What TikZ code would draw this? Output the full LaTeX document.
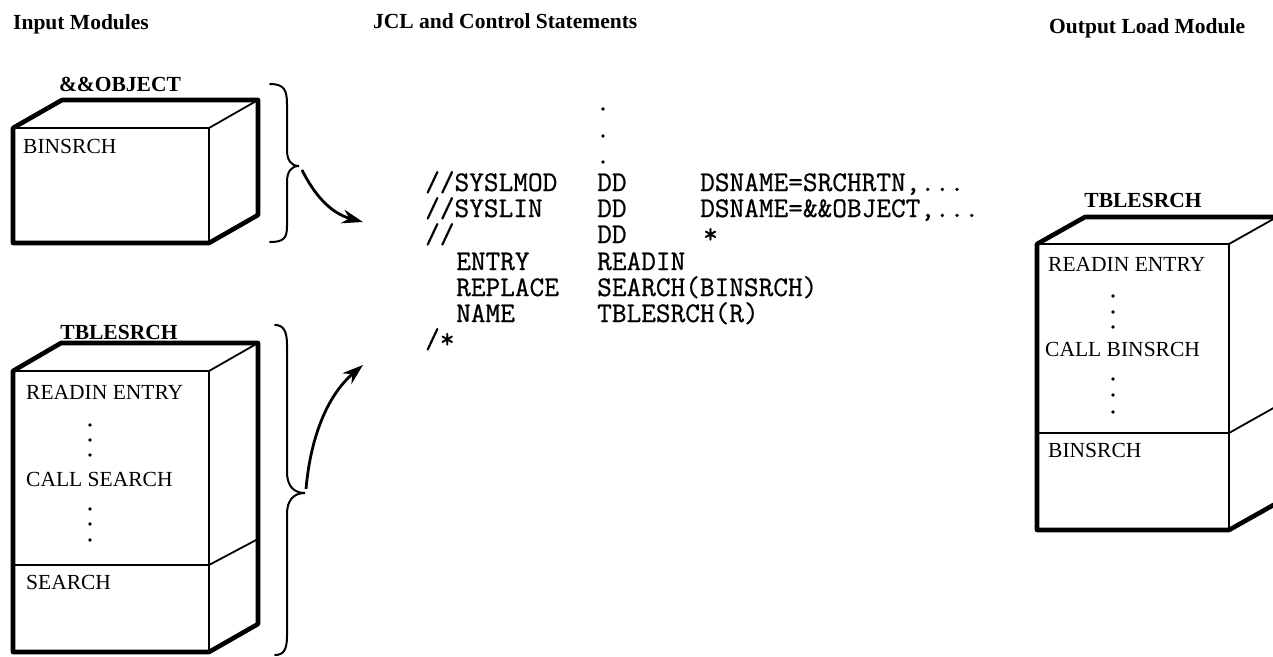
\documentclass[tikz,border=0pt]{standalone}
\usepackage{fontspec}
\setmainfont{Liberation Serif}
\newfontfamily\jclfont[FakeBold=0.7]{Latin Modern Mono}
\usetikzlibrary{arrows.meta}

\tikzset{
  outer/.style={line width=4.6pt, line join=round, line cap=round},
  inner/.style={line width=1.8pt, line cap=round},
  bracepath/.style={line width=2pt, line cap=round},
  flow/.style={line width=2.8pt, -{Stealth[length=21pt,width=14pt]}},
  head/.style={font=\fontsize{21.5}{24}\selectfont\bfseries, anchor=base west, inner sep=0pt},
  title/.style={font=\fontsize{21.5}{24}\selectfont\bfseries, anchor=base, inner sep=0pt},
  entry/.style={font=\fontsize{21.5}{24}\selectfont, anchor=base west, inner sep=0pt},
  code/.style={font=\jclfont\fontsize{28.5}{30}\selectfont, anchor=base west, inner sep=0pt},
  dot/.style={circle, fill, inner sep=0pt, minimum size=3.8pt},
}

\begin{document}
\begin{tikzpicture}[x=1pt, y=-1pt]
\useasboundingbox (0,0) rectangle (1273,656);
\clip (0,0) rectangle (1273,656);

% column headings
\node[head] (hin)  at (13,29)   {Input Modules};
\node[head] (hjcl) at (373,28)  {JCL and Control Statements};
\node[head] (hout) at (1049,33) {Output Load Module};

% ---- input module &&OBJECT ----
\node[title] (tobj) at (120,91) {\&\&OBJECT};
\draw[outer] (13,243) -- (13,128) -- (62,100) -- (258,100) -- (258,215) -- (209,243) -- cycle;
\draw[inner] (13,128) -- (209,128) -- (258,100);
\draw[inner] (209,128) -- (209,243);
\node[entry] (obin) at (23,153) {BINSRCH};

% ---- input module TBLESRCH ----
\node[title] (tin) at (119,339) {TBLESRCH};
\draw[outer] (13,652) -- (13,371) -- (61,343) -- (258,343) -- (258,624) -- (209,652) -- cycle;
\draw[inner] (13,371) -- (209,371) -- (258,343);
\draw[inner] (209,371) -- (209,652);
\draw[inner] (13,565) -- (209,565) -- (258,539);
\node[entry] (iread) at (26,399) {READIN ENTRY};
\foreach \y in {425,440,455,509,524,540} \node[dot] at (90,\y) {};
\node[entry] (icall) at (26,486) {CALL SEARCH};
\node[entry] (isrch) at (26,589) {SEARCH};

% braces gathering the input modules
\draw[bracepath] (270,84) .. controls (284,84) and (287,90) .. (287,104) -- (287,150)
  .. controls (287,160) and (291,166) .. (299,166)
  .. controls (291,166) and (287,172) .. (287,182) -- (287,226)
  .. controls (287,238) and (284,242) .. (270,242);
\coordinate (b1) at (302,170);
\draw[bracepath] (275,325) .. controls (284,325) and (287,332) .. (287,345) -- (287,472)
  .. controls (287,485) and (293,493) .. (305,493)
  .. controls (293,493) and (287,501) .. (287,514) -- (287,636)
  .. controls (287,649) and (284,655) .. (275,655);
\coordinate (b2) at (306,489);

% ---- JCL and control statements ----
\foreach \y in {109,136,162} \node[dot] at (603,\y) {};
\node[code] (l1a) at (425,191) {//SYSLMOD};
\node[code] (l1b) at (597,191) {DD};
\node[code] (l1c) at (700,191) {DSNAME=SRCHRTN,...};
\node[code] (l2a) at (425,217) {//SYSLIN};
\node[code] (l2b) at (597,217) {DD};
\node[code] (l2c) at (700,217) {DSNAME=\&\&OBJECT,...};
\node[code] (l3a) at (425,243) {//};
\node[code] (l3b) at (597,243) {DD};
\node[code] (l3c) at (703,243) {*};
\node[code] (l4a) at (456,270) {ENTRY};
\node[code] (l4b) at (597,270) {READIN};
\node[code] (l5a) at (456,296) {REPLACE};
\node[code] (l5b) at (597,296) {SEARCH(BINSRCH)};
\node[code] (l6a) at (456,322) {NAME};
\node[code] (l6b) at (597,322) {TBLESRCH(R)};
\node[code] (l7a) at (425,348) {/*};

\coordinate (in1) at (363,222);
\coordinate (in2) at (363,365);
\draw[flow] (b1) .. controls (314,194) and (330,213) .. (in1);
\draw[flow] (b2) .. controls (311,432) and (330,393) .. (in2);

% ---- output load module TBLESRCH ----
\node[title] (tout) at (1143,207) {TBLESRCH};
\draw[outer] (1037,530) -- (1037,244) -- (1085,217) -- (1277,217) -- (1277,503) -- (1229,530) -- cycle;
\draw[inner] (1037,244) -- (1229,244) -- (1277,217);
\draw[inner] (1229,244) -- (1229,530);
\draw[inner] (1037,433) -- (1229,433) -- (1277,406);
\node[entry] (oread) at (1048,271) {READIN ENTRY};
\foreach \y in {296,312,327,379,395,412} \node[dot] at (1113,\y) {};
\node[entry] (ocall) at (1045,356) {CALL BINSRCH};
\node[entry] (obs) at (1048,457) {BINSRCH};
\end{tikzpicture}
\end{document}
